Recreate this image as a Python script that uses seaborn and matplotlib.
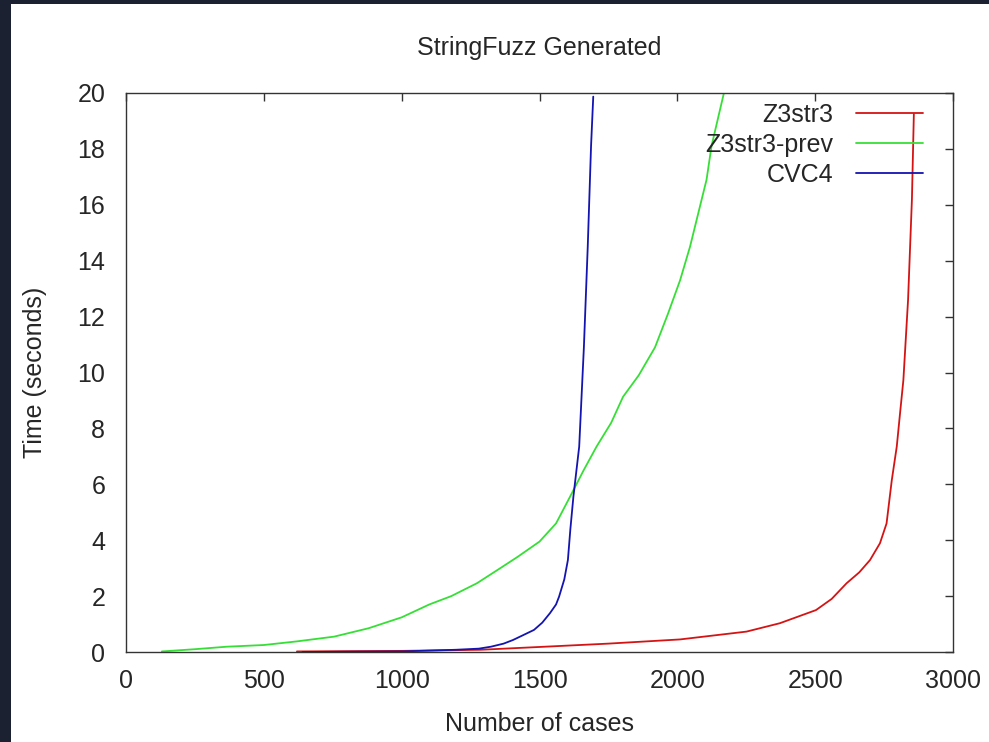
import matplotlib
matplotlib.use('Agg')
import matplotlib.pyplot as plt
import seaborn as sns
import pandas as pd
from matplotlib.patches import Rectangle

# Daten
prev_x = [130, 250, 366, 500, 620, 755, 880, 1000, 1100, 1180, 1273, 1350, 1420, 1500, 1560,
          1611, 1660, 1707, 1760, 1803, 1860, 1919, 1966, 2010, 2046, 2076, 2106, 2124, 2150, 2169]
prev_y = [0.02, 0.1, 0.19, 0.25, 0.38, 0.55, 0.85, 1.24, 1.7, 2.0, 2.46, 2.95, 3.4, 3.95, 4.6,
          5.56, 6.5, 7.35, 8.2, 9.13, 9.9, 10.9, 12.1, 13.3, 14.5, 15.7, 16.9, 18.1, 19.2, 20.0]

cvc4_x = [640, 800, 1000, 1197, 1280, 1324, 1370, 1404, 1440, 1480, 1510, 1538, 1560, 1571,
          1590, 1603, 1612, 1623, 1644, 1661, 1675, 1687, 1695]
cvc4_y = [0.0, 0.01, 0.02, 0.08, 0.12, 0.19, 0.3, 0.43, 0.6, 0.79, 1.05, 1.39, 1.7, 1.98,
          2.6, 3.29, 4.4, 5.56, 7.35, 10.9, 14.5, 18.1, 19.87]

z3_x = [620, 800, 1000, 1287, 1500, 1750, 2010, 2251, 2372, 2503, 2560, 2614, 2660, 2699,
        2735, 2759, 2778, 2796, 2808, 2820, 2837, 2851, 2858]
z3_y = [0.02, 0.03, 0.04, 0.08, 0.18, 0.3, 0.45, 0.73, 1.03, 1.5, 1.9, 2.46, 2.85, 3.29,
        3.89, 4.6, 6.15, 7.35, 8.55, 9.73, 12.6, 16.2, 19.25]

x_ticks = [0, 500, 1000, 1500, 2000, 2500, 3000]
y_ticks = [0, 2, 4, 6, 8, 10, 12, 14, 16, 18, 20]

sns.set_style('white')
plt.rcParams['font.family'] = ['Liberation Sans', 'DejaVu Sans']

W, H = 989, 742
fig = plt.figure(figsize=(W / 100, H / 100), dpi=100)
fig.patch.set_facecolor('#1b2130')
fig.add_artist(Rectangle((11 / W, 0), 1 - 11 / W, 1 - 4 / H, transform=fig.transFigure,
                         facecolor='white', edgecolor='none', zorder=0))

ax = fig.add_axes([126 / W, (H - 652) / H, 827 / W, 559 / H])
ax.set_facecolor('white')

txt = '#262626'
fs = 18

sns.lineplot(x=z3_x, y=z3_y, color='#d41414', lw=1.3, label='Z3str3', ax=ax, sort=False, estimator=None)
sns.lineplot(x=prev_x, y=prev_y, color='#36df36', lw=1.3, label='Z3str3-prev', ax=ax, sort=False, estimator=None)
sns.lineplot(x=cvc4_x, y=cvc4_y, color='#1414b0', lw=1.3, label='CVC4', ax=ax, sort=False, estimator=None)

ax.set_xlim(0, 3000)
ax.set_ylim(0, 20)
ax.set_xticks(x_ticks)
ax.set_yticks(y_ticks)
ax.tick_params(direction='in', length=6, width=1, color='#333333', top=True, right=True,
               labelsize=fs, labelcolor=txt)
ax.tick_params(axis='x', pad=12)
ax.tick_params(axis='y', pad=15)
for s in ax.spines.values():
    s.set_color('#333333')
    s.set_linewidth(1)
    s.set_visible(True)

ax.set_title('StringFuzz Generated', fontsize=fs, color=txt, pad=27.5)
ax.set_xlabel('Number of cases', fontsize=fs, color=txt, labelpad=14)
ax.set_ylabel('Time (seconds)', fontsize=fs, color=txt, labelpad=22)

# markerfirst=False -> Text rechtsbündig, Linie rechts daneben
leg = ax.legend(loc='upper right', frameon=False, markerfirst=False, fontsize=fs,
                handlelength=2.7, handletextpad=0.9, labelspacing=0.25,
                borderaxespad=0.0, borderpad=0.0, bbox_to_anchor=(0.964, 0.983))
for t in leg.get_texts():
    t.set_color(txt)

plt.savefig('out.png', dpi=100, facecolor=fig.get_facecolor())
plt.close()
